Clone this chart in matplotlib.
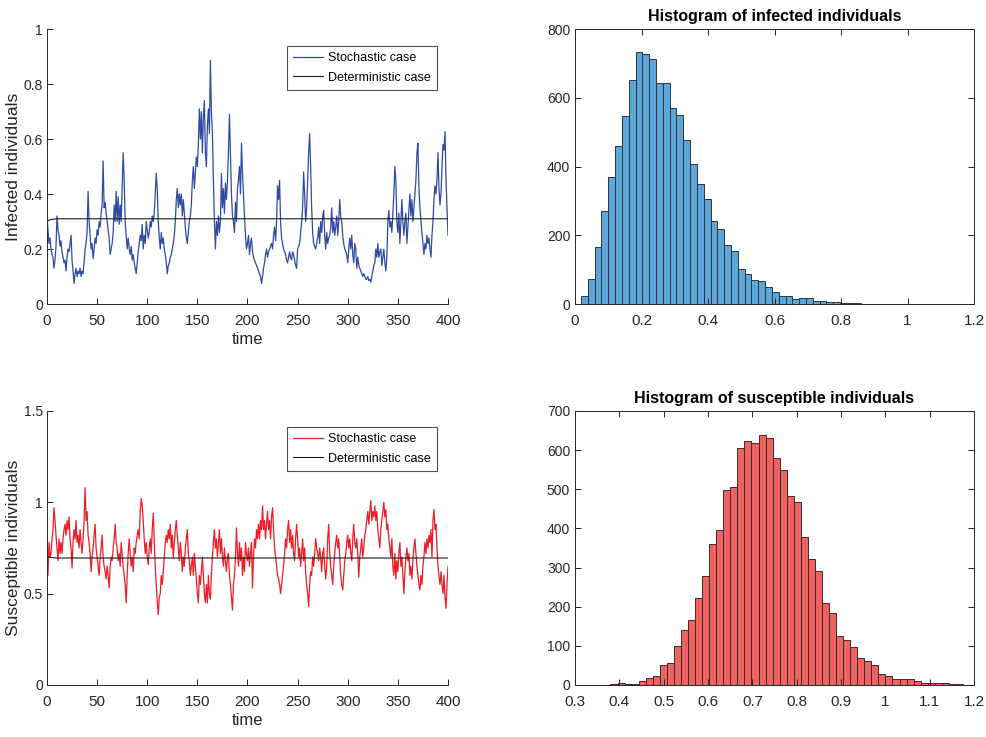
import numpy as np
import matplotlib
matplotlib.use("Agg")
import matplotlib.pyplot as plt

plt.rcParams['font.family'] = ['Liberation Sans Narrow', 'Liberation Sans', 'DejaVu Sans']

# time series, one value per time unit
t = np.arange(0, 401)

infected = [
    0.32, 0.27, 0.22, 0.24, 0.20, 0.18, 0.17, 0.13, 0.16, 0.21,
    0.32, 0.27, 0.25, 0.21, 0.23, 0.19, 0.17, 0.15, 0.16, 0.12,
    0.17, 0.20, 0.19, 0.22, 0.25, 0.16, 0.12, 0.075, 0.11, 0.13,
    0.10, 0.12, 0.11, 0.13, 0.10, 0.12, 0.11, 0.15, 0.20, 0.22,
    0.26, 0.41, 0.30, 0.25, 0.20, 0.22, 0.165, 0.20, 0.24, 0.22,
    0.27, 0.25, 0.30, 0.28, 0.33, 0.36, 0.52, 0.35, 0.37, 0.33,
    0.30, 0.27, 0.24, 0.18, 0.20, 0.22, 0.26, 0.36, 0.30, 0.41,
    0.30, 0.39, 0.29, 0.36, 0.30, 0.42, 0.55, 0.45, 0.30, 0.25,
    0.20, 0.24, 0.20, 0.18, 0.21, 0.16, 0.18, 0.15, 0.13, 0.11,
    0.15, 0.19, 0.22, 0.25, 0.23, 0.29, 0.20, 0.25, 0.22, 0.30,
    0.27, 0.24, 0.26, 0.30, 0.28, 0.32, 0.30, 0.33, 0.40, 0.475,
    0.42, 0.30, 0.24, 0.20, 0.26, 0.22, 0.24, 0.20, 0.18, 0.15,
    0.11, 0.14, 0.15, 0.17, 0.18, 0.20, 0.22, 0.25, 0.30, 0.38,
    0.42, 0.35, 0.40, 0.36, 0.40, 0.32, 0.38, 0.33, 0.28, 0.24,
    0.22, 0.26, 0.30, 0.32, 0.36, 0.45, 0.50, 0.42, 0.48, 0.535,
    0.50, 0.58, 0.71, 0.60, 0.70, 0.55, 0.68, 0.74, 0.55, 0.50,
    0.65, 0.71, 0.62, 0.886, 0.70, 0.62, 0.45, 0.30, 0.20, 0.30,
    0.25, 0.32, 0.26, 0.30, 0.475, 0.35, 0.42, 0.33, 0.44, 0.38,
    0.45, 0.55, 0.69, 0.55, 0.40, 0.32, 0.30, 0.26, 0.37, 0.30,
    0.42, 0.45, 0.50, 0.40, 0.585, 0.48, 0.40, 0.32, 0.25, 0.20,
    0.22, 0.25, 0.18, 0.22, 0.24, 0.19, 0.17, 0.16, 0.15, 0.14,
    0.13, 0.12, 0.11, 0.10, 0.074, 0.10, 0.13, 0.15, 0.18, 0.20,
    0.17, 0.19, 0.20, 0.21, 0.22, 0.20, 0.25, 0.28, 0.23, 0.30,
    0.43, 0.38, 0.45, 0.30, 0.24, 0.22, 0.20, 0.19, 0.18, 0.16,
    0.15, 0.17, 0.19, 0.17, 0.16, 0.19, 0.18, 0.16, 0.14, 0.13,
    0.20, 0.21, 0.22, 0.26, 0.30, 0.35, 0.48, 0.40, 0.30, 0.35,
    0.45, 0.55, 0.62, 0.50, 0.35, 0.26, 0.22, 0.21, 0.20, 0.22,
    0.24, 0.28, 0.22, 0.30, 0.26, 0.32, 0.34, 0.25, 0.20, 0.26,
    0.22, 0.24, 0.25, 0.28, 0.35, 0.26, 0.30, 0.25, 0.28, 0.32,
    0.25, 0.30, 0.38, 0.32, 0.30, 0.25, 0.22, 0.20, 0.19, 0.18,
    0.15, 0.20, 0.24, 0.20, 0.25, 0.18, 0.15, 0.22, 0.20, 0.13,
    0.17, 0.14, 0.13, 0.12, 0.11, 0.10, 0.11, 0.10, 0.09, 0.09,
    0.10, 0.085, 0.09, 0.08, 0.10, 0.12, 0.14, 0.15, 0.20, 0.17,
    0.22, 0.17, 0.19, 0.20, 0.14, 0.17, 0.20, 0.15, 0.12, 0.17,
    0.30, 0.34, 0.28, 0.30, 0.26, 0.33, 0.40, 0.50, 0.45, 0.30,
    0.26, 0.33, 0.22, 0.30, 0.38, 0.30, 0.25, 0.30, 0.33, 0.22,
    0.28, 0.34, 0.40, 0.32, 0.38, 0.30, 0.35, 0.40, 0.45, 0.55,
    0.585, 0.42, 0.35, 0.30, 0.26, 0.22, 0.18, 0.22, 0.20, 0.25,
    0.22, 0.24, 0.20, 0.17, 0.25, 0.30, 0.38, 0.43, 0.40, 0.45,
    0.55, 0.42, 0.36, 0.40, 0.50, 0.58, 0.56, 0.627, 0.45, 0.35,
    0.25,
]

susceptible = [
    0.70, 0.60, 0.78, 0.70, 0.72, 0.80, 0.85, 0.97, 0.90, 0.82,
    0.75, 0.68, 0.80, 0.72, 0.78, 0.72, 0.80, 0.85, 0.88, 0.82,
    0.90, 0.85, 0.92, 0.80, 0.75, 0.64, 0.78, 0.85, 0.80, 0.90,
    0.78, 0.82, 0.75, 0.85, 0.78, 0.72, 0.80, 0.90, 1.08, 0.90,
    0.95, 0.82, 0.78, 0.72, 0.62, 0.70, 0.75, 0.82, 0.88, 0.75,
    0.70, 0.65, 0.60, 0.70, 0.75, 0.82, 0.70, 0.65, 0.62, 0.58,
    0.65, 0.60, 0.53, 0.65, 0.70, 0.68, 0.75, 0.80, 0.88, 0.78,
    0.75, 0.68, 0.72, 0.65, 0.78, 0.72, 0.65, 0.60, 0.55, 0.45,
    0.60, 0.72, 0.80, 0.72, 0.65, 0.70, 0.62, 0.75, 0.72, 0.78,
    0.82, 0.85, 0.80, 0.95, 1.02, 0.98, 0.90, 0.80, 0.72, 0.78,
    0.70, 0.66, 0.75, 0.80, 0.72, 0.85, 0.94, 0.80, 0.65, 0.55,
    0.45, 0.385, 0.48, 0.50, 0.60, 0.55, 0.62, 0.70, 0.78, 0.82,
    0.78, 0.85, 0.80, 0.88, 0.75, 0.82, 0.70, 0.78, 0.85, 0.90,
    0.82, 0.75, 0.68, 0.78, 0.72, 0.62, 0.70, 0.65, 0.75, 0.80,
    0.85, 0.72, 0.68, 0.60, 0.65, 0.70, 0.60, 0.72, 0.65, 0.58,
    0.50, 0.45, 0.60, 0.55, 0.62, 0.70, 0.60, 0.50, 0.45, 0.55,
    0.45, 0.60, 0.50, 0.47, 0.60, 0.70, 0.78, 0.85, 0.75, 0.80,
    0.70, 0.78, 0.85, 0.72, 0.80, 0.70, 0.65, 0.75, 0.68, 0.62,
    0.70, 0.72, 0.60, 0.55, 0.48, 0.41, 0.55, 0.60, 0.70, 0.86,
    0.72, 0.65, 0.78, 0.68, 0.75, 0.60, 0.70, 0.62, 0.78, 0.72,
    0.68, 0.75, 0.65, 0.72, 0.78, 0.53, 0.70, 0.80, 0.75, 0.85,
    0.80, 0.88, 0.80, 0.90, 0.85, 0.98, 0.85, 0.90, 0.80, 0.88,
    0.95, 0.85, 0.90, 0.80, 0.92, 0.97, 0.85, 0.75, 0.70, 0.65,
    0.60, 0.58, 0.55, 0.50, 0.55, 0.60, 0.65, 0.72, 0.80, 0.75,
    0.85, 0.90, 0.78, 0.85, 0.75, 0.82, 0.72, 0.68, 0.80, 0.88,
    0.80, 0.70, 0.75, 0.65, 0.72, 0.80, 0.68, 0.75, 0.62, 0.55,
    0.50, 0.43, 0.55, 0.62, 0.60, 0.70, 0.65, 0.72, 0.80, 0.75,
    0.72, 0.68, 0.75, 0.70, 0.62, 0.72, 0.75, 0.65, 0.58, 0.65,
    0.80, 0.88, 0.72, 0.65, 0.60, 0.55, 0.65, 0.72, 0.78, 0.82,
    0.75, 0.80, 0.70, 0.60, 0.55, 0.52, 0.60, 0.68, 0.72, 0.78,
    0.82, 0.75, 0.80, 0.72, 0.68, 0.80, 0.88, 0.78, 0.75, 0.80,
    0.72, 0.59, 0.70, 0.75, 0.80, 0.70, 0.75, 0.82, 0.85, 0.90,
    0.95, 0.88, 0.95, 1.01, 0.90, 0.95, 0.92, 0.98, 0.90, 0.95,
    0.85, 0.80, 0.75, 0.85, 0.90, 0.95, 1.00, 0.92, 0.96, 0.85,
    0.88, 0.80, 0.75, 0.70, 0.80, 0.65, 0.60, 0.72, 0.58, 0.68,
    0.62, 0.72, 0.78, 0.65, 0.70, 0.60, 0.50, 0.62, 0.70, 0.75,
    0.68, 0.72, 0.60, 0.65, 0.58, 0.68, 0.75, 0.80, 0.72, 0.65,
    0.60, 0.55, 0.52, 0.60, 0.55, 0.65, 0.70, 0.78, 0.72, 0.80,
    0.75, 0.82, 0.78, 0.85, 0.70, 0.90, 0.96, 0.85, 0.88, 0.75,
    0.65, 0.60, 0.55, 0.62, 0.55, 0.50, 0.60, 0.48, 0.42, 0.55,
    0.65,
]

# deterministic solutions (settle almost at once)
det_t = [0, 2, 5, 10, 400]
det_I = [0.300, 0.305, 0.308, 0.310, 0.310]
det_S = [0.705, 0.700, 0.697, 0.695, 0.695]

# histogram of infected: bin edges and counts
inf_start, inf_width = 0.018, 0.0205
inf_counts = [23, 73, 166, 270, 369, 460, 547, 651, 734, 726,
              714, 642, 643, 571, 549, 477, 406, 350, 306, 241,
              219, 173, 154, 103, 86, 69, 66, 50, 35, 23,
              22, 14, 18, 17, 8, 8, 6, 6, 2, 4,
              2, 1, 1, 1, 0, 1, 0, 0, 1]

# histogram of susceptible
sus_start, sus_width = 0.38, 0.0159
sus_counts = [3, 5, 2, 3, 9, 19, 23, 52, 56, 99,
              140, 166, 221, 279, 360, 396, 498, 507, 606, 624,
              619, 638, 632, 580, 550, 483, 468, 378, 323, 290,
              210, 185, 125, 116, 96, 70, 60, 50, 28, 22,
              14, 15, 14, 9, 6, 5, 6, 4, 2, 3]

axcol = '#262626'
plt.rcParams['axes.edgecolor'] = axcol
plt.rcParams['xtick.color'] = axcol
plt.rcParams['ytick.color'] = axcol
plt.rcParams['axes.labelcolor'] = axcol

fig = plt.figure(figsize=(9.87, 7.37), dpi=100)
ax1 = fig.add_axes([0.0476, 0.5875, 0.4063, 0.3731])
ax2 = fig.add_axes([0.5826, 0.5875, 0.4043, 0.3731])
ax3 = fig.add_axes([0.0476, 0.0706, 0.4063, 0.3718])
ax4 = fig.add_axes([0.5826, 0.0706, 0.4043, 0.3718])

ylab_font = ['Liberation Sans', 'DejaVu Sans']


def style_line_axes(ax):
    ax.spines['top'].set_visible(False)
    ax.spines['right'].set_visible(False)
    ax.tick_params(direction='in', length=4, width=0.7, labelsize=11)
    ax.tick_params(axis='x', pad=7)
    ax.tick_params(axis='y', pad=3, labelsize=10)
    for s in ax.spines.values():
        s.set_linewidth(0.7)


# infected time series
ax1.plot(t, infected, color='#2f4ba3', lw=0.9, label='Stochastic case')
ax1.plot(det_t, det_I, color='#1a1a1a', lw=0.8, label='Deterministic case')
ax1.set_xlim(0, 400)
ax1.set_ylim(0, 1)
ax1.set_xticks(range(0, 401, 50))
ax1.set_yticks([0, 0.2, 0.4, 0.6, 0.8, 1])
ax1.set_yticklabels(['0', '0.2', '0.4', '0.6', '0.8', '1'])
ax1.set_xlabel('time', fontsize=12, labelpad=3)
ax1.set_ylabel('Infected individuals', fontsize=12.5, family=ylab_font)
ax1.yaxis.set_label_coords(-0.064, 0.5)
style_line_axes(ax1)
leg = ax1.legend(loc='upper right', bbox_to_anchor=(0.973, 0.938), fontsize=9,
                 frameon=True, fancybox=False, handlelength=2.4, borderpad=0.5,
                 labelspacing=0.6, handletextpad=0.4, borderaxespad=0)
leg.get_frame().set_edgecolor(axcol)
leg.get_frame().set_linewidth(0.8)

# susceptible time series
ax3.plot(t, susceptible, color='#ee1c25', lw=0.9, label='Stochastic case')
ax3.plot(det_t, det_S, color='#1a1a1a', lw=0.8, label='Deterministic case')
ax3.set_xlim(0, 400)
ax3.set_ylim(0, 1.5)
ax3.set_xticks(range(0, 401, 50))
ax3.set_yticks([0, 0.5, 1, 1.5])
ax3.set_yticklabels(['0', '0.5', '1', '1.5'])
ax3.set_xlabel('time', fontsize=12, labelpad=3)
ax3.set_ylabel('Susceptible individuals', fontsize=12.5, family=ylab_font)
ax3.yaxis.set_label_coords(-0.064, 0.5)
style_line_axes(ax3)
leg = ax3.legend(loc='upper right', bbox_to_anchor=(0.973, 0.942), fontsize=9,
                 frameon=True, fancybox=False, handlelength=2.4, borderpad=0.5,
                 labelspacing=0.6, handletextpad=0.4, borderaxespad=0)
leg.get_frame().set_edgecolor(axcol)
leg.get_frame().set_linewidth(0.8)


def style_hist_axes(ax):
    ax.tick_params(direction='in', length=4, width=0.7, labelsize=11,
                   top=True, right=True)
    ax.tick_params(axis='x', pad=7)
    ax.tick_params(axis='y', labelsize=10)
    for s in ax.spines.values():
        s.set_linewidth(0.7)


# infected histogram
inf_edges = inf_start + inf_width * np.arange(len(inf_counts))
ax2.bar(inf_edges, inf_counts, width=inf_width, align='edge',
        color='#5fa6d8', edgecolor='#2a3540', linewidth=0.7)
ax2.set_xlim(0, 1.2)
ax2.set_ylim(0, 800)
ax2.set_xticks([0, 0.2, 0.4, 0.6, 0.8, 1, 1.2])
ax2.set_xticklabels(['0', '0.2', '0.4', '0.6', '0.8', '1', '1.2'])
ax2.set_yticks(range(0, 801, 200))
ax2.set_title('Histogram of infected individuals', fontsize=11.5, fontweight='bold', pad=6)
style_hist_axes(ax2)

# susceptible histogram
sus_edges = sus_start + sus_width * np.arange(len(sus_counts))
ax4.bar(sus_edges, sus_counts, width=sus_width, align='edge',
        color='#ef6262', edgecolor='#3d2a2a', linewidth=0.7)
ax4.set_xlim(0.3, 1.2)
ax4.set_ylim(0, 700)
ax4.set_xticks([0.3, 0.4, 0.5, 0.6, 0.7, 0.8, 0.9, 1, 1.1, 1.2])
ax4.set_xticklabels(['0.3', '0.4', '0.5', '0.6', '0.7', '0.8', '0.9', '1', '1.1', '1.2'])
ax4.set_yticks(range(0, 701, 100))
ax4.set_title('Histogram of susceptible individuals', fontsize=11.5, fontweight='bold', pad=6)
style_hist_axes(ax4)

fig.savefig('out.png', dpi=100)
